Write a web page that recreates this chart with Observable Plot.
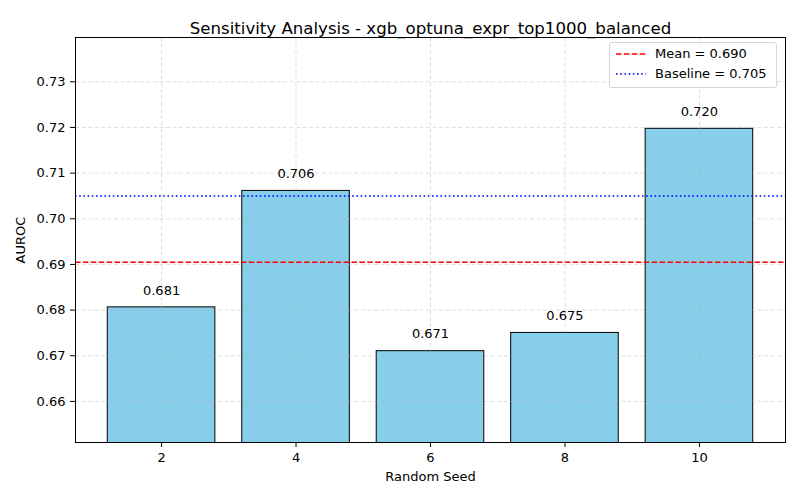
<!DOCTYPE html>
<html>
<head>
<meta charset="utf-8">
<script src="https://cdn.jsdelivr.net/npm/d3@7"></script>
<script src="https://cdn.jsdelivr.net/npm/@observablehq/plot@0.6"></script>
<style>
  html, body { margin: 0; padding: 0; background: #fff; }
  #wrap { position: relative; width: 800px; height: 500px; font-family: "DejaVu Sans", sans-serif; }
  #legend { position: absolute; left: 609px; top: 42px; width: 168px; height: 46px; border: 1px solid #d5d5d5; border-radius: 3px; background: rgba(255,255,255,0.85); font-size: 13px; color: #000; box-sizing: border-box; }
  .row { position: absolute; left: 6px; display: flex; align-items: center; }
  .row svg { margin-right: 9px; }
</style>
</head>
<body>
<div id="wrap">
  <div id="chart"></div>
  <div id="legend">
    <div class="row" style="top:3px"><svg width="30" height="10"><line x1="0" y1="5" x2="30" y2="5" stroke="red" stroke-width="1.6" stroke-dasharray="5.5,2.4"/></svg><span id="lg1"></span></div>
    <div class="row" style="top:23px"><svg width="30" height="10"><line x1="0" y1="5" x2="30" y2="5" stroke="blue" stroke-width="1.6" stroke-dasharray="1.6,2.6"/></svg><span id="lg2"></span></div>
  </div>
</div>
<script>
const seeds = [2, 4, 6, 8, 10];
const auroc = [0.6806, 0.7061, 0.6710, 0.6750, 0.7197];
const baseline = 0.705;
const yTicks = [0.66, 0.67, 0.68, 0.69, 0.70, 0.71, 0.72, 0.73];
const xTicks = [2, 4, 6, 8, 10];
const titleText = "Sensitivity Analysis - xgb_optuna_expr_top1000_balanced";

const data = seeds.map((s, i) => ({seed: s, auroc: auroc[i]}));
const mean = d3.mean(auroc);
const halfW = 0.8;
document.getElementById("lg1").textContent = `Mean = ${mean.toFixed(3)}`;
document.getElementById("lg2").textContent = `Baseline = ${baseline.toFixed(3)}`;

const ymin = d3.min(auroc) - 0.02, ymax = d3.max(auroc) + 0.02;

const chart = Plot.plot({
  width: 800,
  height: 500,
  marginLeft: 75,
  marginRight: 15,
  marginTop: 37,
  marginBottom: 58,
  style: {fontFamily: "DejaVu Sans, sans-serif", fontSize: "13px", color: "#000", background: "#fff"},
  x: {domain: [0.72, 11.28]},
  y: {domain: [ymin, ymax]},
  marks: [
    Plot.rectY(data, {x1: d => d.seed - halfW, x2: d => d.seed + halfW, y1: 0, y2: "auroc", fill: "#87CEEB", stroke: "#000", strokeWidth: 1, clip: "frame"}),
    Plot.gridX(xTicks, {stroke: "#b0b0b0", strokeOpacity: 0.4, strokeDasharray: "4,2.5"}),
    Plot.gridY(yTicks, {stroke: "#b0b0b0", strokeOpacity: 0.4, strokeDasharray: "4,2.5"}),
    Plot.ruleY([mean], {stroke: "red", strokeWidth: 1.6, strokeDasharray: "5.5,2.4"}),
    Plot.ruleY([baseline], {stroke: "blue", strokeWidth: 1.6, strokeDasharray: "1.6,2.6"}),
    Plot.text(data, {x: "seed", y: "auroc", text: d => d.auroc.toFixed(3), dy: -17, fontSize: 13, fill: "#000"}),
    Plot.axisX({ticks: xTicks, tickFormat: d => String(d), label: "Random Seed", labelAnchor: "center", labelArrow: "none", labelOffset: 38, tickSize: 5, tickPadding: 5, fontSize: 13}),
    Plot.axisY({ticks: yTicks, tickFormat: d3.format(".2f"), label: "AUROC", labelAnchor: "center", labelArrow: "none", labelOffset: 60, tickSize: 5, tickPadding: 5, fontSize: 13}),
    Plot.frame({stroke: "#000", strokeWidth: 1}),
    Plot.text([titleText], {frameAnchor: "top", dy: -15, fontSize: 16.6, fill: "#000"})
  ]
});
document.getElementById("chart").appendChild(chart);
</script>
</body>
</html>
